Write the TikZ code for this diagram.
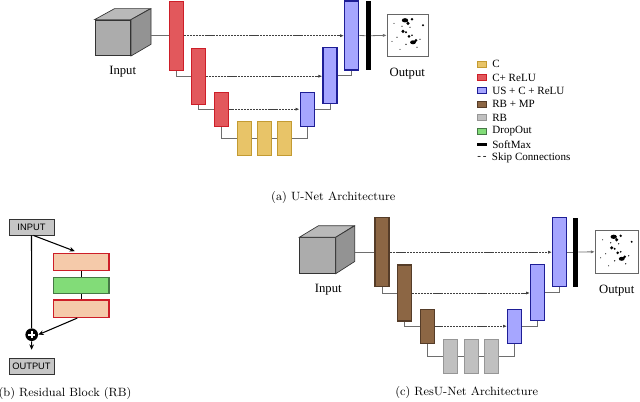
\documentclass[tikz,border=0pt]{standalone}
\usepackage{fontspec}
\usetikzlibrary{arrows.meta,positioning}
\newfontfamily\timesfont{Liberation Serif}
\newfontfamily\arialfont{Liberation Sans}

\definecolor{cRed}{RGB}{226,88,92}
\definecolor{cRedD}{RGB}{205,30,40}
\definecolor{cBlue}{RGB}{166,166,255}
\definecolor{cBlueD}{RGB}{30,30,150}
\definecolor{cYel}{RGB}{232,196,104}
\definecolor{cYelD}{RGB}{195,155,50}
\definecolor{cBrown}{RGB}{140,102,68}
\definecolor{cBrownD}{RGB}{85,60,40}
\definecolor{cGray}{RGB}{192,192,192}
\definecolor{cGrayD}{RGB}{150,150,150}
\definecolor{cSalmon}{RGB}{245,202,170}
\definecolor{cGreen}{RGB}{130,220,120}
\definecolor{cGreenD}{RGB}{70,120,70}
\definecolor{cLink}{RGB}{110,110,110}

\tikzset{
  bar/.style={draw, rectangle, inner sep=0pt, minimum width=10.5pt, line width=1pt},
  tall/.style={bar, minimum height=51.75pt},
  mid/.style={bar, minimum height=42pt},
  short/.style={bar, minimum height=25.5pt},
  softbar/.style={rectangle, fill=black, inner sep=0pt, minimum width=3.5pt, minimum height=51.75pt},
  outimg/.style={rectangle, draw=gray!80!black, fill=white, line width=0.7pt, inner sep=0pt, minimum size=#1},
  cubefront/.style={rectangle, draw=gray!40!black, fill=gray!65, line width=0.5pt, inner sep=0pt, minimum size=26.8pt},
  link/.style={draw=cLink, line width=0.6pt},
  skip/.style={link, draw=black!75, dash pattern=on 1.6pt off 0.6pt, -{Latex[length=3pt,width=2.4pt]}},
  lbl/.style={inner sep=0.75pt, font=\timesfont\fontsize{9.5}{11}\selectfont},
  legtext/.style={inner sep=0pt, anchor=west, font=\timesfont\fontsize{8.3}{10}\selectfont},
  swatch/.style={rectangle, inner sep=0pt, minimum width=7pt, minimum height=4.5pt, line width=0.6pt, draw},
  capt/.style={inner sep=0.75pt, font=\small},
  rbox/.style={rectangle, draw, inner sep=0pt, line width=1.1pt, minimum width=41.8pt, minimum height=13pt},
  iobox/.style={rectangle, draw=gray!40!black, fill=gray!45, inner sep=0pt, line width=0.7pt,
    minimum width=33.75pt, minimum height=12pt, font=\arialfont\fontsize{7}{8}\selectfont},
  plusnode/.style={circle, fill=black, inner sep=0pt, minimum size=9.5pt,
    path picture={\draw[white, line width=1.3pt] (path picture bounding box.center) +(-2.6pt,0) -- +(2.6pt,0)
      (path picture bounding box.center) +(0,-2.6pt) -- +(0,2.6pt);}},
  rbarrow/.style={draw=black, line width=0.8pt, -{Stealth[length=4pt,width=3.5pt]}}
}

\begin{document}
\begin{tikzpicture}[x=0.75pt,y=0.75pt,yscale=-1,xscale=1]
\useasboundingbox (0,0) rectangle (640,401);

%%%%% (a) U-Net
%Shape: Cube
\node[cubefront] (cubeA) at (112.8,37.8) {};
\draw[draw=gray!40!black, fill=gray!55, line width=0.5pt] (cubeA.north west) -- ++(20,-11) -- ++(35.7,0) -- (cubeA.north east) -- cycle;
\draw[draw=gray!40!black, fill=gray!85, line width=0.5pt] (cubeA.north east) -- ++(20,-11) coordinate (cubeAtr) -- ++(0,35.7) -- (cubeA.south east) -- cycle;
% Text Node
\node[lbl] (inA) at (122.7,71.7) {Input};

%Shape: Bars
\node[tall, fill=cRed, draw=cRedD] (redA1) at (176.3,35.7) {};
\node[mid, fill=cRed, draw=cRedD] (redA2) at (198.3,76.2) {};
\node[short, fill=cRed, draw=cRedD] (redA3) at (221.7,109.2) {};
\node[short, fill=cYel, draw=cYelD] (yelA1) at (244.5,138.7) {};
\node[short, fill=cYel, draw=cYelD] (yelA2) at (264.7,138.7) {};
\node[short, fill=cYel, draw=cYelD] (yelA3) at (284.7,138.7) {};
\node[short, fill=cBlue, draw=cBlueD] (bluA3) at (307.2,109.2) {};
\node[mid, fill=cBlue, draw=cBlueD] (bluA2) at (330,75.7) {};
\node[tall, fill=cBlue, draw=cBlueD] (bluA1) at (351.7,35.5) {};
\node[softbar] (smA) at (368.3,35.7) {};
\node[outimg=31pt] (outA) at (408,35.3) {};
\begin{scope}[shift={(outA.center)}]
\fill[black] (-3,-15) ellipse (2.4pt and 1.6pt) (0,-12) circle (1.3pt) (4,-16) circle (1pt)
  (-5,-4) circle (1.3pt) (-2,-3) circle (0.8pt) (1,1) circle (1.1pt) (4,0) circle (0.7pt)
  (5,7) ellipse (2.2pt and 1.5pt) (8,5) circle (1.1pt) (15,-10) circle (0.8pt) (-11,2) circle (0.45pt)
  (-14,-12) circle (0.4pt) (9,12) circle (0.5pt) (-8,14) circle (0.4pt) (12,4) circle (0.5pt)
  (-2,9) circle (0.55pt) (2,-8) circle (0.5pt) (-16,6) circle (0.4pt) (-6,-9) circle (0.5pt);
\end{scope}
% Text Node
\node[lbl] (ouA) at (407.3,73.3) {Output};

%Straight Lines
\draw[link] (redA1.west) -- (redA1.west -| cubeAtr);
\draw[link] (redA1.south) |- (redA2.west);
\draw[link] (redA2.south) |- (redA3.west);
\draw[link] (redA3.south) |- (yelA1.west);
\draw[link] (yelA1) -- (yelA2);
\draw[link] (yelA2) -- (yelA3);
\draw[link] (yelA3.east) -| (bluA3.south);
\draw[link] (bluA3.east) -| (bluA2.south);
\draw[link] (bluA2.east) -| (bluA1.south);
\draw[link] (bluA1.east) -- (smA.west);
\draw[link, -{Latex[length=3pt,width=2.4pt]}] (smA.east) -- (outA.west);
%Skip Connections
\draw[skip] (redA1.east) -- (bluA1.west |- redA1.east);
\draw[skip] (redA2.east) -- (bluA2.west |- redA2.east);
\draw[skip] (redA3.east) -- (bluA3.west |- redA3.east);

% Legend
\node[swatch, fill=cYel, draw=cYelD] (lgC) at (482,64) {};
\node[legtext, right=3.75pt of lgC] {C};
\node[swatch, fill=cRed, draw=cRedD] (lgCR) at (482,77.4) {};
\node[legtext, right=3.75pt of lgCR] {C+ ReLU};
\node[swatch, fill=cBlue, draw=cBlueD] (lgUS) at (482,90.8) {};
\node[legtext, right=3.75pt of lgUS] {US + C + ReLU};
\node[swatch, fill=cBrown, draw=cBrownD] (lgRM) at (482,104.2) {};
\node[legtext, right=3.75pt of lgRM] {RB + MP};
\node[swatch, fill=cGray, draw=cGrayD] (lgRB) at (482,117.6) {};
\node[legtext, right=3.75pt of lgRB] {RB};
\node[swatch, fill=cGreen, draw=cGreenD] (lgDO) at (482,131) {};
\node[legtext, right=3.75pt of lgDO] {DropOut};
\node[swatch, fill=black, draw=black, minimum height=2pt] (lgSM) at (482,144.4) {};
\node[legtext, right=3.75pt of lgSM] {SoftMax};
\node[inner sep=0pt, font=\timesfont\fontsize{8.3}{10}\selectfont] (lgSK) at (482,157.8) {-\,-};
\node[legtext] at (491.7,157.8) {Skip Connections};

% Text Node
\node[capt] (capA) at (333.3,197.3) {(a) U-Net Architecture};

%%%%% (b) Residual block
\node[iobox] (rbIn) at (31.5,227) {INPUT};
\node[rbox, fill=cSalmon, draw=cRedD] (rbC1) at (81.2,262) {};
\node[rbox, fill=cGreen, draw=cGreenD, minimum height=12.2pt] (rbDrop) at (81.2,285.5) {};
\node[rbox, fill=cSalmon, draw=cRedD] (rbC2) at (81.2,308.7) {};
\node[plusnode] (rbPlus) at (31.7,334.7) {};
\node[iobox] (rbOut) at (31.5,366.2) {OUTPUT};

\draw[line width=0.8pt] (rbC1.south) -- (rbDrop.north);
\draw[line width=0.8pt] (rbDrop.south) -- (rbC2.north);
\draw[line width=0.8pt] (rbIn.south) -- (rbPlus.north);
\draw[rbarrow, shorten >=3pt] ([xshift=1.5pt]rbIn.south) -- ([xshift=-2pt]rbC1.north);
\draw[rbarrow] ([xshift=-3pt]rbC2.south) -- (rbPlus.east);
\draw[rbarrow, shorten >=6pt] (rbPlus.south) -- (rbOut.north);

% Text Node
\node[capt] (capB) at (65,393.3) {(b) Residual Block (RB)};

%%%%% (c) ResU-Net
%Shape: Cube
\node[cubefront] (cubeB) at (317.5,255.5) {};
\draw[draw=gray!40!black, fill=gray!55, line width=0.5pt] (cubeB.north west) -- ++(19,-11.5) -- ++(35.7,0) -- (cubeB.north east) -- cycle;
\draw[draw=gray!40!black, fill=gray!85, line width=0.5pt] (cubeB.north east) -- ++(19,-11.5) coordinate (cubeBtr) -- ++(0,35.7) -- (cubeB.south east) -- cycle;
% Text Node
\node[lbl] (inB) at (328.3,289.3) {Input};

%Shape: Bars
\node[tall, fill=cBrown, draw=cBrownD] (brnB1) at (382,252.2) {};
\node[mid, fill=cBrown, draw=cBrownD] (brnB2) at (404.3,293) {};
\node[short, fill=cBrown, draw=cBrownD] (brnB3) at (427.8,326.2) {};
\node[short, fill=cGray, draw=cGrayD] (gryB1) at (450.3,356.7) {};
\node[short, fill=cGray, draw=cGrayD] (gryB2) at (471.3,356.7) {};
\node[short, fill=cGray, draw=cGrayD] (gryB3) at (491.7,356.7) {};
\node[short, fill=cBlue, draw=cBlueD] (bluB3) at (514.7,326.2) {};
\node[mid, fill=cBlue, draw=cBlueD] (bluB2) at (537.7,292.5) {};
\node[tall, fill=cBlue, draw=cBlueD] (bluB1) at (559.7,252) {};
\node[softbar] (smB) at (575.8,252) {};
\node[outimg=32pt] (outB) at (616.7,251.8) {};
\begin{scope}[shift={(outB.center)}]
\fill[black] (-3,-15) ellipse (2.4pt and 1.6pt) (0,-12) circle (1.3pt) (4,-16) circle (1pt)
  (-5,-4) circle (1.3pt) (-2,-3) circle (0.8pt) (1,1) circle (1.1pt) (4,0) circle (0.7pt)
  (5,7) ellipse (2.2pt and 1.5pt) (8,5) circle (1.1pt) (15,-10) circle (0.8pt) (-11,2) circle (0.45pt)
  (-14,-12) circle (0.4pt) (9,12) circle (0.5pt) (-8,14) circle (0.4pt) (12,4) circle (0.5pt)
  (-2,9) circle (0.55pt) (2,-8) circle (0.5pt) (-16,6) circle (0.4pt) (-6,-9) circle (0.5pt);
\end{scope}
% Text Node
\node[lbl] (ouB) at (616.7,290.7) {Output};

%Straight Lines
\draw[link] (brnB1.west) -- (brnB1.west -| cubeBtr);
\draw[link] (brnB1.south) |- (brnB2.west);
\draw[link] (brnB2.south) |- (brnB3.west);
\draw[link] (brnB3.south) |- (gryB1.west);
\draw[link] (gryB1) -- (gryB2);
\draw[link] (gryB2) -- (gryB3);
\draw[link] (gryB3.east) -| (bluB3.south);
\draw[link] (bluB3.east) -| (bluB2.south);
\draw[link] (bluB2.east) -| (bluB1.south);
\draw[link] (bluB1.east) -- (smB.west);
\draw[link, -{Latex[length=3pt,width=2.4pt]}] (smB.east) -- (outB.west);
%Skip Connections
\draw[skip] (brnB1.east) -- (bluB1.west |- brnB1.east);
\draw[skip] (brnB2.east) -- (bluB2.west |- brnB2.east);
\draw[skip] (brnB3.east) -- (bluB3.west |- brnB3.east);

% Text Node
\node[capt] (capC) at (466.7,392.7) {(c) ResU-Net Architecture};

\end{tikzpicture}
\end{document}
